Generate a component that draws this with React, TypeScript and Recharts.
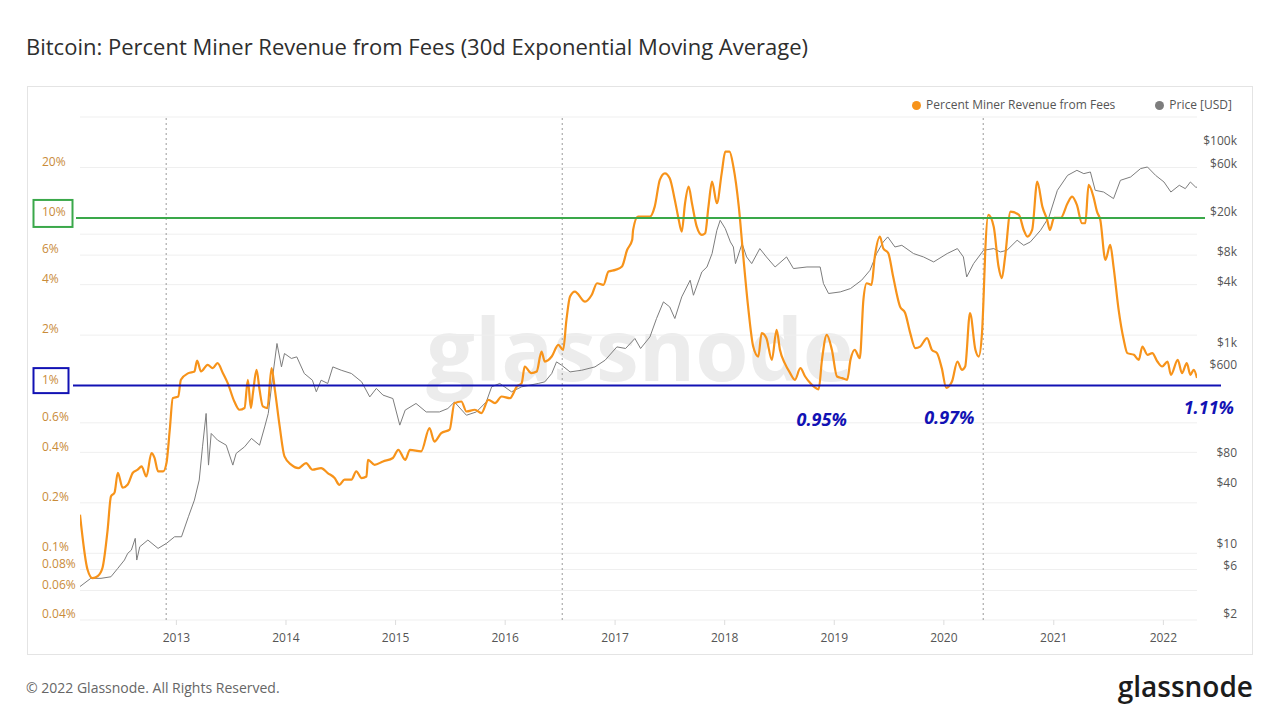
import { CartesianGrid, Line, LineChart, ReferenceDot, ReferenceLine, XAxis, YAxis } from "recharts";

// 30d EMA of percent miner revenue from fees
const feeDates = [
  "2012-02-15", "2012-03-11", "2012-03-28", "2012-04-14", "2012-04-30", "2012-05-17", "2012-05-28", "2012-06-09",
  "2012-06-20", "2012-07-06", "2012-07-23", "2012-08-09", "2012-08-25", "2012-09-07", "2012-09-23", "2012-10-10",
  "2012-10-20", "2012-11-01", "2012-11-18", "2012-11-29", "2012-12-10", "2012-12-20", "2013-01-07", "2013-01-16",
  "2013-02-10", "2013-03-02", "2013-03-11", "2013-03-24", "2013-04-15", "2013-05-02", "2013-05-18", "2013-06-05",
  "2013-06-21", "2013-07-13", "2013-07-30", "2013-08-16", "2013-08-27", "2013-09-06", "2013-09-13", "2013-09-25",
  "2013-10-05", "2013-10-16", "2013-10-31", "2013-11-14", "2013-11-25", "2013-12-11", "2013-12-27", "2014-01-19",
  "2014-02-11", "2014-03-09", "2014-03-30", "2014-04-28", "2014-05-20", "2014-06-12", "2014-06-28", "2014-07-15",
  "2014-08-07", "2014-08-23", "2014-09-10", "2014-09-26", "2014-10-01", "2014-10-23", "2014-11-20", "2014-12-23",
  "2015-01-10", "2015-02-02", "2015-02-18", "2015-03-27", "2015-04-24", "2015-05-10", "2015-06-02", "2015-06-30",
  "2015-07-16", "2015-08-08", "2015-08-25", "2015-09-22", "2015-10-14", "2015-11-06", "2015-11-28", "2015-12-20",
  "2016-01-17", "2016-02-09", "2016-02-25", "2016-03-06", "2016-03-28", "2016-04-15", "2016-05-01", "2016-05-12",
  "2016-06-04", "2016-06-26", "2016-07-12", "2016-07-23", "2016-08-04", "2016-08-20", "2016-09-23", "2016-10-15",
  "2016-11-02", "2016-11-23", "2016-12-10", "2017-01-02", "2017-01-24", "2017-02-10", "2017-02-27", "2017-03-02",
  "2017-03-18", "2017-04-27", "2017-05-13", "2017-05-30", "2017-06-16", "2017-07-02", "2017-07-19", "2017-07-30",
  "2017-08-11", "2017-08-22", "2017-09-03", "2017-09-14", "2017-09-30", "2017-10-17", "2017-10-28", "2017-11-08",
  "2017-11-20", "2017-12-06", "2017-12-22", "2018-01-03", "2018-01-17", "2018-01-30", "2018-02-17", "2018-03-03",
  "2018-03-20", "2018-04-06", "2018-04-23", "2018-05-04", "2018-05-20", "2018-06-07", "2018-06-23", "2018-07-04",
  "2018-07-20", "2018-08-07", "2018-08-23", "2018-09-10", "2018-09-26", "2018-10-13", "2018-11-10", "2018-11-21",
  "2018-12-07", "2018-12-24", "2019-01-10", "2019-01-27", "2019-02-13", "2019-02-24", "2019-03-10", "2019-03-27",
  "2019-04-08", "2019-04-19", "2019-05-05", "2019-05-16", "2019-06-02", "2019-06-13", "2019-06-30", "2019-07-16",
  "2019-08-08", "2019-08-25", "2019-09-11", "2019-09-28", "2019-10-14", "2019-11-06", "2019-11-22", "2019-12-09",
  "2019-12-25", "2020-01-09", "2020-01-28", "2020-02-15", "2020-03-01", "2020-03-12", "2020-03-28", "2020-04-15",
  "2020-04-26", "2020-05-07", "2020-05-12", "2020-05-18", "2020-05-28", "2020-06-15", "2020-07-01", "2020-07-12",
  "2020-07-23", "2020-08-10", "2020-09-07", "2020-09-23", "2020-10-05", "2020-10-21", "2020-11-07", "2020-11-24",
  "2020-12-10", "2020-12-19", "2021-01-02", "2021-01-24", "2021-02-16", "2021-03-03", "2021-03-19", "2021-04-05",
  "2021-04-16", "2021-04-27", "2021-05-13", "2021-05-25", "2021-06-05", "2021-06-22", "2021-07-08", "2021-07-19",
  "2021-08-05", "2021-08-22", "2021-09-03", "2021-09-25", "2021-10-11", "2021-10-23", "2021-11-09", "2021-11-25",
  "2021-12-12", "2021-12-28", "2022-01-15", "2022-01-26", "2022-02-18", "2022-03-04", "2022-03-20", "2022-04-01",
  "2022-04-12", "2022-04-23",
];
const feeValues = [
  0.17, 0.08, 0.071, 0.073, 0.082, 0.138, 0.218, 0.23,
  0.302, 0.246, 0.257, 0.302, 0.315, 0.33, 0.287, 0.396,
  0.372, 0.308, 0.308, 0.345, 0.546, 0.842, 0.861, 1.083,
  1.187, 1.214, 1.411, 1.214, 1.33, 1.271, 1.361, 1.187,
  1.035, 0.804, 0.718, 0.735, 1.083, 0.735, 0.902, 1.242,
  0.944, 0.751, 0.735, 1.271, 0.944, 0.571, 0.378, 0.337,
  0.322, 0.345, 0.315, 0.322, 0.301, 0.281, 0.256, 0.275,
  0.275, 0.308, 0.281, 0.287, 0.361, 0.337, 0.353, 0.37,
  0.414, 0.361, 0.414, 0.405, 0.558, 0.464, 0.521, 0.546,
  0.786, 0.804, 0.701, 0.718, 0.686, 0.823, 0.786, 0.861,
  0.842, 0.988, 1.035, 1.3, 1.187, 1.214, 1.597, 1.392,
  1.491, 1.751, 1.635, 2.466, 3.4, 3.64, 3.17, 3.47,
  4.08, 3.99, 4.79, 4.9, 5.13, 6.44, 7.4, 8.48,
  10.18, 10.18, 11.68, 16.85, 18.46, 17.25, 12.8, 10.18,
  8.29, 12.24, 15.37, 12.24, 8.87, 7.92, 8.1, 11.68,
  16.45, 12.24, 18.46, 24.83, 24.83, 20.22, 11.68, 6.16,
  2.96, 1.71, 1.491, 2.055, 1.919, 1.425, 2.15, 1.635,
  1.361, 1.187, 1.083, 1.271, 1.133, 1.035, 0.95, 1.425,
  2.007, 1.635, 1.133, 1.108, 1.083, 1.425, 1.635, 1.458,
  3.25, 4.08, 3.99, 5.88, 7.74, 6.6, 6.16, 4.47,
  2.96, 2.71, 2.055, 1.673, 1.71, 1.919, 1.635, 1.562,
  1.271, 0.97, 1.058, 1.392, 1.242, 1.3, 2.71, 1.635,
  1.491, 2.055, 3.25, 6.44, 10.42, 8.87, 5.13, 4.37,
  5.88, 10.9, 10.42, 8.48, 7.74, 8.48, 16.45, 11.68,
  9.73, 8.48, 10.0, 10.0, 12.24, 13.4, 11.95, 9.3,
  9.3, 15.73, 13.4, 10.9, 9.73, 5.62, 6.9, 5.13,
  2.83, 1.875, 1.562, 1.526, 1.425, 1.71, 1.526, 1.562,
  1.392, 1.3, 1.392, 1.16, 1.425, 1.187, 1.361, 1.16,
  1.242, 1.11,
];

// BTC price in USD
const priceDates = [
  "2012-02-15", "2012-03-22", "2012-04-25", "2012-05-28", "2012-06-20", "2012-07-12", "2012-07-23", "2012-08-04",
  "2012-08-17", "2012-08-22", "2012-09-01", "2012-09-28", "2012-11-01", "2012-11-29", "2012-12-26", "2013-01-18",
  "2013-02-10", "2013-03-02", "2013-03-18", "2013-03-29", "2013-04-10", "2013-04-18", "2013-04-27", "2013-05-18",
  "2013-06-16", "2013-07-08", "2013-07-19", "2013-08-16", "2013-09-08", "2013-10-05", "2013-10-22", "2013-11-03",
  "2013-11-19", "2013-12-02", "2013-12-17", "2013-12-27", "2014-01-19", "2014-02-06", "2014-03-03", "2014-03-30",
  "2014-04-12", "2014-04-28", "2014-05-20", "2014-06-06", "2014-07-04", "2014-08-07", "2014-09-10", "2014-10-07",
  "2014-10-29", "2014-11-20", "2014-12-23", "2015-01-15", "2015-02-02", "2015-03-10", "2015-04-13", "2015-05-27",
  "2015-06-24", "2015-07-16", "2015-08-25", "2015-09-27", "2015-10-30", "2015-11-17", "2015-12-14", "2016-01-22",
  "2016-02-25", "2016-04-20", "2016-05-12", "2016-06-04", "2016-06-20", "2016-07-07", "2016-08-04", "2016-09-12",
  "2016-10-26", "2016-11-29", "2017-01-07", "2017-02-05", "2017-03-08", "2017-03-27", "2017-04-27", "2017-05-19",
  "2017-06-11", "2017-07-02", "2017-07-19", "2017-08-11", "2017-09-08", "2017-09-19", "2017-10-17", "2017-11-03",
  "2017-11-20", "2017-12-06", "2017-12-17", "2018-01-03", "2018-01-20", "2018-01-30", "2018-02-06", "2018-02-28",
  "2018-03-15", "2018-04-01", "2018-04-28", "2018-05-20", "2018-06-18", "2018-07-26", "2018-08-18", "2018-10-02",
  "2018-11-15", "2018-11-26", "2018-12-13", "2019-01-21", "2019-02-24", "2019-04-02", "2019-04-30", "2019-05-22",
  "2019-06-13", "2019-06-28", "2019-07-22", "2019-08-14", "2019-09-22", "2019-10-25", "2019-11-28", "2020-01-12",
  "2020-02-15", "2020-03-06", "2020-03-17", "2020-04-09", "2020-05-12", "2020-06-15", "2020-07-07", "2020-07-29",
  "2020-09-01", "2020-09-23", "2020-10-15", "2020-11-18", "2020-12-16", "2021-01-13", "2021-02-16", "2021-03-19",
  "2021-04-11", "2021-05-03", "2021-05-19", "2021-06-16", "2021-07-19", "2021-08-11", "2021-09-14", "2021-10-17",
  "2021-11-09", "2021-12-06", "2022-01-03", "2022-01-26", "2022-02-23", "2022-03-15", "2022-04-01", "2022-04-18",
  "2022-04-23",
];
const priceValues = [
  4.3, 5.19, 5.19, 5.38, 6.53, 7.89, 9.2, 9.91,
  12.96, 7.89, 10.69, 12.47, 10.3, 11.56, 13.44, 13.44,
  21.24, 31.1, 49.2, 105.3, 226, 69.3, 143, 122.8,
  109.4, 69.3, 90.5, 105.3, 127.6, 109.4, 166, 226,
  564, 1121, 656, 891, 796, 825, 564, 484,
  371, 484, 449, 656, 608, 564, 466, 330,
  401, 344, 318, 173, 244, 284, 234, 234,
  253, 294, 217, 234, 294, 416, 449, 371,
  416, 449, 466, 564, 736, 682, 585, 608,
  656, 765, 1037, 1000, 1257, 1000, 1303, 1985,
  2904, 2590, 1985, 3258, 4770, 3383, 5770, 6460,
  8780, 14960, 18800, 15560, 11460, 10210, 6980, 11040,
  8130, 6980, 9840, 8130, 6460, 8130, 6230, 6460,
  6460, 4420, 3520, 3650, 3940, 4770, 5990, 8780,
  11460, 12850, 10210, 10610, 8780, 8130, 7250, 8780,
  9840, 8130, 5140, 6980, 9460, 9840, 9110, 9460,
  11910, 10610, 11460, 14960, 20280, 37350, 52600, 59020,
  54700, 56800, 37350, 35920, 30900, 46950, 50680, 61400,
  63700, 52600, 45190, 35920, 41900, 38800, 45190, 40300,
  40000,
];

const yearTicks = ["2013", "2014", "2015", "2016", "2017", "2018", "2019", "2020", "2021", "2022"];
const halvingDates = ["2012-11-28", "2016-07-09", "2020-05-11"];
const percentTicks = [0.04, 0.06, 0.08, 0.1, 0.2, 0.4, 0.6, 1, 2, 4, 6, 8, 10, 20, 40];
const unlabeledPercentTicks = [8, 40];
const priceTicks = [2, 6, 10, 40, 80, 600, 1000, 4000, 8000, 20000, 60000, 100000];
const percentDomain = [0.04, 40];
const priceDomain = [2, 200000];
const lowDates = ["2018-11-10", "2020-01-09", "2022-04-23"];
const lowValues = [0.95, 0.97, 1.11];
const lowLabels = ["0.95%", "0.97%", "1.11%"];

const ts = (d: string) => new Date(d).getTime();
const feeData = feeDates.map((d, i) => ({ t: ts(d), v: feeValues[i] }));
const priceData = priceDates.map((d, i) => ({ t: ts(d), v: priceValues[i] }));
const xDomain = [ts(feeDates[0]), ts(feeDates[feeDates.length - 1])];

const ORANGE = "#f7931a";
const GREEN = "#3aa84a";
const BLUE = "#1212b4";
const FONT = "'Open Sans', sans-serif";

function PercentTick({ y, payload }: any) {
  const v = payload.value as number;
  if (unlabeledPercentTicks.includes(v)) return <g />;
  return (
    <g>
      {v === 10 && <rect x={6.5} y={y - 18} width={39} height={27} fill="#fff" stroke={GREEN} strokeWidth={2} />}
      {v === 1 && <rect x={6.5} y={y - 17.5} width={35} height={25} fill="#fff" stroke={BLUE} strokeWidth={2} />}
      <text x={15} y={y - 6} dy="0.35em" fontSize={12} fill="#c98b3a" style={{ fontFamily: FONT }}>{`${v}%`}</text>
    </g>
  );
}

function PriceTick({ y, payload }: any) {
  const v = payload.value as number;
  const label = v >= 1000 ? `$${v / 1000}k` : `$${v}`;
  return (
    <text x={1210} y={y - 6} dy="0.35em" textAnchor="end" fontSize={12} fill="#555" style={{ fontFamily: FONT }}>{label}</text>
  );
}

function LowLabel(text: string, last: boolean) {
  return ({ viewBox }: any) => {
    const cx = viewBox.x + viewBox.width / 2;
    const cy = viewBox.y + viewBox.height / 2;
    return (
      <text x={last ? cx + 37 : cx + 3} y={cy + 30} dy="0.35em" textAnchor={last ? "end" : "middle"}
        fontSize={18} fontWeight={700} fontStyle="italic" fill={BLUE} style={{ fontFamily: FONT }}>{text}</text>
    );
  };
}

export default function App() {
  return (
    <div style={{ position: "absolute", left: 0, top: 0, width: 1280, height: 720, background: "#fff", overflow: "hidden", fontFamily: FONT }}>
      <div style={{ position: "absolute", left: 26, top: 31, fontSize: 22, lineHeight: "30px", fontWeight: 500, color: "#2e2e2e" }}>
        Bitcoin: Percent Miner Revenue from Fees (30d Exponential Moving Average)
      </div>
      <div style={{ position: "absolute", left: 27, top: 86, width: 1226, height: 569, border: "1px solid #e4e4e4", boxSizing: "border-box" }} />
      <div style={{ position: "absolute", left: 0, width: 1280, top: 298, textAlign: "center", fontSize: 86, lineHeight: "100px", fontWeight: 700, color: "#ececec", paddingLeft: 0 }}>
        glassnode
      </div>
      <div style={{ position: "absolute", left: 27, top: 86 }}>
        <LineChart width={1226} height={569} margin={{ top: 31, right: 16, left: 13, bottom: 0 }}>
          <CartesianGrid yAxisId="left" vertical={false} stroke="#efefef" />
          <XAxis type="number" dataKey="t" domain={xDomain} allowDataOverflow ticks={yearTicks.map((y) => ts(`${y}-01-01`))}
            tickFormatter={(v) => String(new Date(v).getUTCFullYear())} interval={0} height={35}
            axisLine={false} tickLine={{ stroke: "#ddd" }} tickSize={5} tickMargin={8}
            tick={{ fill: "#555", fontSize: 12, fontFamily: FONT }} />
          <YAxis yAxisId="left" scale="log" domain={percentDomain} allowDataOverflow ticks={percentTicks} interval={0}
            width={40} axisLine={false} tickLine={false} tick={<PercentTick />} />
          <YAxis yAxisId="right" orientation="right" scale="log" domain={priceDomain} allowDataOverflow ticks={priceTicks}
            interval={0} width={40} axisLine={false} tickLine={false} tick={<PriceTick />} />
          {halvingDates.map((d) => (
            <ReferenceLine key={d} yAxisId="left" x={ts(d)} stroke="#9a9a9a" strokeDasharray="2 3" />
          ))}
          <Line yAxisId="right" data={priceData} dataKey="v" type="linear" stroke="#7d7d7d" strokeWidth={1} dot={false} isAnimationActive={false} />
          <Line yAxisId="left" data={feeData} dataKey="v" type="monotone" stroke={ORANGE} strokeWidth={2.2} dot={false} isAnimationActive={false} />
          <ReferenceLine yAxisId="left" y={10} shape={(p: any) => (
            <line x1={p.x1 - 4} x2={p.x2 + 8} y1={p.y1} y2={p.y2} stroke={GREEN} strokeWidth={2} />
          )} />
          <ReferenceLine yAxisId="left" y={1} shape={(p: any) => (
            <line x1={p.x1 - 7} x2={p.x2 + 24} y1={p.y1} y2={p.y2} stroke={BLUE} strokeWidth={2} />
          )} />
          {lowDates.map((d, i) => (
            <ReferenceDot key={d} yAxisId="left" x={ts(d)} y={lowValues[i]} r={0} fill="none" stroke="none"
              label={LowLabel(lowLabels[i], i === lowDates.length - 1)} />
          ))}
        </LineChart>
      </div>
      <div style={{ position: "absolute", right: 48, top: 96, display: "flex", alignItems: "center", fontSize: 12, color: "#555", lineHeight: "18px" }}>
        <span style={{ width: 9, height: 9, borderRadius: 5, background: ORANGE, marginRight: 5 }} />
        <span>Percent Miner Revenue from Fees</span>
        <span style={{ width: 9, height: 9, borderRadius: 5, background: "#7d7d7d", marginLeft: 40, marginRight: 5 }} />
        <span>Price [USD]</span>
      </div>
      <div style={{ position: "absolute", left: 26, top: 678, fontSize: 14, lineHeight: "20px", color: "#666" }}>
        © 2022 Glassnode. All Rights Reserved.
      </div>
      <div style={{ position: "absolute", right: 27, top: 668, fontSize: 28, lineHeight: "36px", fontWeight: 600, color: "#1c1c1c" }}>
        glassnode
      </div>
    </div>
  );
}
